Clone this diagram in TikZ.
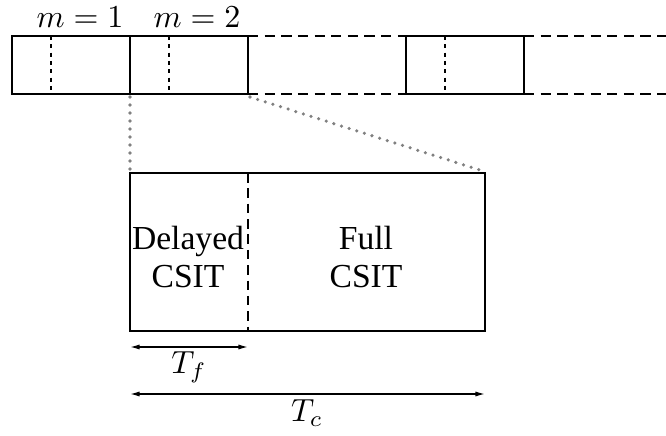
\documentclass[tikz,border=0pt]{standalone}
\usepackage[no-math]{fontspec}
\setmainfont{Liberation Serif}
\usetikzlibrary{arrows.meta}

\tikzset{
  frame/.style={line width=0.6pt},
  slotline/.style={line width=0.6pt, dash pattern=on 3.2pt off 2pt},
  inner/.style={line width=0.35pt, dash pattern=on 1.3pt off 1.3pt},
  split/.style={line width=0.4pt, dash pattern=on 3pt off 1.8pt},
  zoomline/.style={gray, line width=1.1pt, line cap=round, dash pattern=on 0pt off 2.5pt},
  span/.style={line width=0.4pt, {Latex[length=3pt,width=1.6pt]}-{Latex[length=3pt,width=1.6pt]}},
  txt/.style={font=\fontsize{10.5}{12}\selectfont, align=center}
}

\begin{document}
\begin{tikzpicture}[x=0.3125pt, y=-0.3125pt]
  \useasboundingbox (0,0) rectangle (666,436);
  % top row of slots
  \coordinate (s0t) at (12,36);   \coordinate (s0b) at (12,94);
  \coordinate (s1t) at (130,36);  \coordinate (s1b) at (130,94);
  \coordinate (s2t) at (248,36);  \coordinate (s2b) at (248,94);
  \coordinate (s3t) at (406,36);  \coordinate (s3b) at (406,94);
  \coordinate (s4t) at (524,36);  \coordinate (s4b) at (524,94);
  \coordinate (ent) at (666,36);  \coordinate (enb) at (666,94);
  \draw[frame] (s0t) rectangle (s1b);
  \draw[frame] (s1t) rectangle (s2b);
  \draw[frame] (s3t) rectangle (s4b);
  \draw[inner] (51,36) -- (51,94);
  \draw[inner] (169,36) -- (169,94);
  \draw[inner] (445,36) -- (445,94);
  \draw[slotline] (s2t) -- (s3t);
  \draw[slotline] (s2b) -- (s3b);
  \draw[slotline] (s4t) -- (ent);
  \draw[slotline] (s4b) -- (enb);
  \node (m1) at (80,17) {$m=1$};
  \node (m2) at (197,17) {$m=2$};
  % zoomed slot
  \coordinate (bl) at (130,173);  \coordinate (br) at (485,173);
  \coordinate (bm) at (248,173);  \coordinate (bmb) at (248,331);
  \coordinate (bb) at (485,331);
  \draw[zoomline] (130,97) -- (130,171);
  \draw[zoomline] (250,97) -- (483,171);
  \draw[frame] (bl) rectangle (bb);
  \draw[split] (bm) -- (bmb);
  \node[txt] (dcsit) at (188,257) {Delayed\\CSIT};
  \node[txt] (fcsit) at (366,257) {Full\\CSIT};
  % durations
  \coordinate (tfa) at (130,347); \coordinate (tfb) at (248,347);
  \coordinate (tca) at (130,394); \coordinate (tcb) at (485,394);
  \draw[span] (tfa) -- (tfb);
  \draw[span] (tca) -- (tcb);
  \node (tf) at (189,367) {$T_f$};
  \node (tc) at (307,413) {$T_c$};
\end{tikzpicture}
\end{document}
